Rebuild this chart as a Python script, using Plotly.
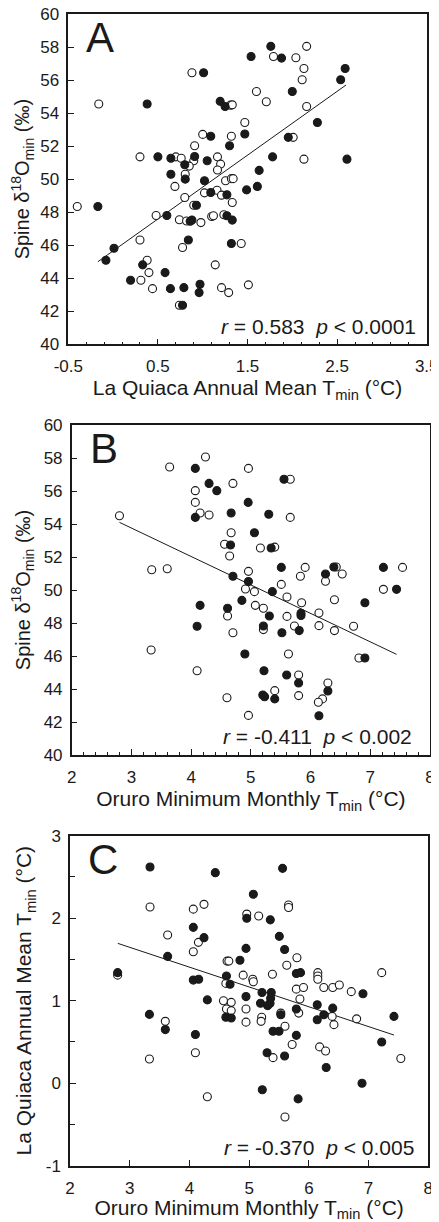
import plotly.graph_objects as go

# ---------------- Panel A data ----------------
a_open_x = [-0.40, -0.16, 0.88, 1.31, 1.33, 1.47, 1.00, 1.32, 0.91, 0.30, 0.70, 0.76, 0.90, 1.165, 1.20,
            0.85, 0.805, 1.165, 0.69, 1.255, 1.32, 1.34, 1.02, 1.16, 1.21, 0.80, 1.33, 0.90, 0.48, 0.74,
            0.82, 0.98, 1.10, 1.12, 1.236, 0.30, 0.775, 1.43, 0.38, 0.40, 1.14, 0.31, 0.44, 1.21, 1.29,
            1.51, 0.74, 2.16, 1.79, 2.04, 2.13, 2.11, 1.60, 1.71, 2.16, 2.01, 2.13]
a_open_y = [48.34, 54.55, 56.44, 54.48, 54.50, 53.43, 52.71, 52.60, 52.02, 51.35, 51.35, 51.27, 51.11, 51.35, 50.91,
            50.79, 50.30, 50.55, 49.56, 49.90, 50.03, 50.03, 49.17, 49.33, 49.03, 48.89, 48.59, 48.42, 47.80, 47.54,
            47.47, 47.37, 47.74, 47.78, 47.84, 46.32, 45.86, 46.10, 45.09, 44.34, 44.81, 43.88, 43.37, 43.43, 43.13,
            43.60, 42.36, 58.04, 57.43, 57.35, 56.70, 56.02, 55.31, 54.69, 54.40, 52.53, 51.21]
a_fill_x = [-0.17, 0.38, 1.01, 1.195, 1.25, 1.09, 1.30, 1.47, 0.50, 0.645, 0.91, 1.05, 0.80, 0.805, 0.645,
            1.02, 1.09, 1.27, 0.93, 0.60, 0.88, 0.86, 1.27, 1.33, 0.84, 1.32, 0.01, -0.08, 0.33, 0.58,
            0.195, 0.64, 0.79, 0.97, 0.96, 0.775, 1.76, 1.54, 1.88, 2.59, 2.54, 2.00, 2.28, 1.955, 1.78,
            2.61, 1.63, 1.61, 1.49]
a_fill_y = [48.34, 54.55, 56.44, 54.71, 54.40, 52.60, 52.02, 52.73, 51.35, 51.27, 51.37, 51.11, 50.87, 50.00, 50.30,
            49.90, 49.19, 49.05, 48.42, 47.80, 47.52, 47.45, 47.78, 47.52, 46.32, 46.10, 45.82, 45.09, 44.81, 44.34,
            43.88, 43.37, 43.43, 43.64, 43.13, 42.36, 58.04, 57.43, 57.33, 56.70, 56.02, 55.31, 53.43, 52.53, 51.35,
            51.21, 50.53, 49.56, 49.35]
a_fit_x = [-0.17, 2.60]
a_fit_y = [45.0, 55.7]

# ---------------- Panel B data ----------------
b_open_x = [2.80, 3.64, 4.24, 4.07, 4.70, 4.07, 4.15, 4.30, 4.96, 4.67, 4.56, 4.645, 3.34, 3.60, 4.96,
            4.91, 4.61, 4.70, 3.33, 4.10, 4.60, 4.96, 5.66, 5.66, 5.16, 5.40, 5.91, 5.83, 6.25, 6.43,
            6.53, 7.54, 7.22, 5.06, 5.51, 5.605, 5.85, 6.14, 6.40, 5.075, 5.21, 5.21, 5.605, 5.73, 6.14,
            6.40, 6.72, 5.63, 6.81, 5.80, 6.29, 5.40, 5.80, 6.20, 6.13]
b_open_y = [54.50, 57.45, 58.06, 56.02, 56.46, 55.31, 54.67, 54.55, 57.37, 53.47, 52.77, 52.06, 51.23, 51.29, 51.13,
            50.06, 48.42, 47.41, 46.36, 45.11, 43.47, 42.40, 56.71, 54.40, 52.55, 52.60, 51.37, 50.83, 50.53, 51.39,
            50.97, 51.37, 50.04, 49.90, 50.34, 49.58, 49.23, 48.61, 49.41, 49.07, 48.89, 47.60, 48.40, 47.82, 47.84,
            47.54, 47.80, 46.12, 45.88, 44.85, 44.36, 43.90, 43.60, 43.40, 43.20]
b_fill_x = [4.07, 4.30, 4.43, 4.07, 4.67, 4.955, 4.66, 4.70, 4.96, 4.85, 4.15, 4.61, 4.10, 4.90, 5.555,
            5.30, 5.06, 5.34, 5.51, 6.25, 6.39, 7.22, 7.44, 5.36, 5.84, 5.84, 6.91, 5.31, 5.21, 5.81,
            5.52, 6.91, 5.22, 5.60, 5.80, 6.29, 5.20, 5.23, 5.40, 6.14]
b_fill_y = [57.37, 56.46, 56.02, 54.40, 54.67, 55.31, 52.73, 50.83, 50.51, 49.37, 49.07, 48.89, 47.80, 46.12, 56.71,
            54.59, 53.47, 52.55, 51.37, 50.97, 51.39, 51.37, 50.04, 49.90, 48.59, 48.45, 49.23, 48.42, 47.82, 47.54,
            47.41, 45.88, 45.11, 44.85, 44.36, 43.88, 43.64, 43.53, 43.40, 42.38]
b_fit_x = [2.80, 7.44]
b_fit_y = [54.1, 46.1]

# ---------------- Panel C data ----------------
c_open_x = [3.34, 4.065, 4.244, 4.15, 3.635, 4.065, 2.798, 3.596, 4.10, 3.33, 4.30, 4.63, 4.66, 4.96, 4.61,
            4.90, 4.57, 4.70, 4.62, 4.70, 4.947, 4.947, 5.66, 5.66, 5.16, 5.80, 5.63, 5.39, 6.15, 6.15,
            6.15, 5.06, 5.07, 5.79, 5.91, 6.25, 6.40, 6.51, 6.71, 5.85, 5.83, 5.53, 6.39, 6.42, 6.80,
            5.21, 5.20, 5.60, 5.72, 6.18, 6.28, 7.54, 5.40, 5.60, 7.22]
c_open_y = [2.135, 2.11, 2.168, 1.707, 1.796, 1.594, 1.31, 0.75, 0.37, 0.293, -0.164, 1.48, 1.48, 2.05, 1.21,
            1.31, 1.00, 0.98, 0.90, 0.88, 0.90, 0.74, 2.16, 2.13, 2.026, 1.52, 1.43, 1.32, 1.34, 1.30,
            1.26, 1.26, 1.23, 1.14, 1.16, 1.16, 1.16, 1.19, 1.11, 1.02, 0.85, 0.85, 0.81, 0.71, 0.78,
            0.80, 0.75, 0.69, 0.47, 0.44, 0.39, 0.30, 0.31, -0.41, 1.34]
c_fill_x = [3.34, 4.433, 4.065, 4.244, 3.635, 2.798, 4.065, 4.155, 4.30, 3.33, 3.596, 4.10, 4.846, 4.947, 4.96,
            4.62, 4.68, 4.947, 4.61, 4.70, 5.56, 5.07, 5.354, 5.505, 5.594, 5.79, 5.86, 6.906, 5.215, 5.37,
            5.36, 5.35, 5.19, 5.31, 5.79, 5.53, 6.14, 6.40, 6.14, 6.25, 7.425, 5.40, 5.50, 5.79, 7.22,
            5.30, 5.594, 6.29, 6.89, 5.22, 5.82]
c_fill_y = [2.62, 2.552, 1.889, 1.764, 1.537, 1.34, 1.25, 1.26, 1.01, 0.834, 0.65, 0.59, 1.49, 1.634, 2.00,
            1.30, 1.20, 1.05, 0.80, 0.79, 2.604, 2.29, 1.98, 1.78, 1.62, 1.33, 1.34, 1.085, 1.10, 1.10,
            1.03, 0.97, 0.97, 0.94, 0.90, 0.83, 0.95, 0.91, 0.77, 0.83, 0.81, 0.63, 0.63, 0.58, 0.50,
            0.37, 0.33, 0.19, 0.00, -0.08, -0.19]
c_fit_x = [2.80, 7.425]
c_fit_y = [1.695, 0.584]

# ---------------- Tick labels ----------------
a_xtickvals = [-0.5, 0.5, 1.5, 2.5, 3.5]
a_xticktext = ["-0.5", "0.5", "1.5", "2.5", "3.5"]
ab_ytickvals = [40, 42, 44, 46, 48, 50, 52, 54, 56, 58, 60]
ab_yticktext = ["40", "42", "44", "46", "48", "50", "52", "54", "56", "58", "60"]
bc_xtickvals = [2, 3, 4, 5, 6, 7, 8]
bc_xticktext = ["2", "3", "4", "5", "6", "7", "8"]
c_ytickvals = [-1, 0, 1, 2, 3]
c_yticktext = ["-1", "0", "1", "2", "3"]

panel_letters = ["A", "B", "C"]
stats_text = ["<i>r</i> = 0.583&nbsp;&nbsp;<i>p</i> &lt; 0.0001",
              "<i>r</i> = -0.411&nbsp;&nbsp;<i>p</i> &lt; 0.002",
              "<i>r</i> = -0.370&nbsp;&nbsp;<i>p</i> &lt; 0.005"]
x_titles = ["La Quiaca Annual Mean T<sub>min</sub> (°C)",
            "Oruro Minimum Monthly T<sub>min</sub> (°C)",
            "Oruro Minimum Monthly T<sub>min</sub> (°C)"]
y_titles = ["Spine δ<sup>18</sup>O<sub>min</sub> (‰)",
            "Spine δ<sup>18</sup>O<sub>min</sub> (‰)",
            "La Quiaca Annual Mean T<sub>min</sub> (°C)"]

FONT = "Liberation Sans, Arial, Helvetica, sans-serif"
INK = "#1a1a1a"
PAGE_W, PAGE_H = 439, 1222
OFF = 8  # the page body margin that offsets the figure
W, H = PAGE_W - OFF, PAGE_H - OFF

fig = go.Figure()

panels = [
    (a_open_x, a_open_y, a_fill_x, a_fill_y, a_fit_x, a_fit_y),
    (b_open_x, b_open_y, b_fill_x, b_fill_y, b_fit_x, b_fit_y),
    (c_open_x, c_open_y, c_fill_x, c_fill_y, c_fit_x, c_fit_y),
]
for i, (ox, oy, fx, fy, lx, ly) in enumerate(panels):
    xa = "x" if i == 0 else f"x{i+1}"
    ya = "y" if i == 0 else f"y{i+1}"
    fig.add_trace(go.Scatter(x=lx, y=ly, mode="lines", line=dict(color=INK, width=1),
                             xaxis=xa, yaxis=ya, showlegend=False, hoverinfo="skip"))
    fig.add_trace(go.Scatter(x=ox, y=oy, mode="markers",
                             marker=dict(symbol="circle", size=8, color="white",
                                         line=dict(color=INK, width=1.1)),
                             xaxis=xa, yaxis=ya, showlegend=False))
    fig.add_trace(go.Scatter(x=fx, y=fy, mode="markers",
                             marker=dict(symbol="circle", size=8, color=INK,
                                         line=dict(color=INK, width=1.1)),
                             xaxis=xa, yaxis=ya, showlegend=False))

# page-pixel geometry of the three plot frames (left, right, top, bottom)
frames = [(68.3, 426.7, 14.0, 344.3), (71.7, 430.0, 425.0, 755.0), (70.0, 428.3, 835.7, 1165.7)]

def xd(l, r):
    return [(l - OFF) / W, (r - OFF) / W]

def yd(t, b):
    return [1 - (b - OFF) / H, 1 - (t - OFF) / H]

common = dict(showline=True, linecolor=INK, linewidth=1.5, mirror=True, showgrid=False, zeroline=False,
              ticks="inside", tickcolor=INK, tickfont=dict(family=FONT, size=17, color=INK),
              fixedrange=True, automargin=False, ticklabeloverflow="allow")

xranges = [[-0.5, 3.5], [2, 8], [2, 8]]
yranges = [[40, 60], [40, 60], [-1, 3]]
xtv = [(a_xtickvals, a_xticktext), (bc_xtickvals, bc_xticktext), (bc_xtickvals, bc_xticktext)]
ytv = [(ab_ytickvals, ab_yticktext), (ab_ytickvals, ab_yticktext), (c_ytickvals, c_yticktext)]
xminor = [dict(ticks="inside", tick0=-0.5, dtick=0.2, ticklen=3, tickcolor=INK),
          dict(ticks="inside", tick0=2, dtick=0.2, ticklen=3, tickcolor=INK),
          None]
yminor = [None, None, dict(ticks="inside", tick0=-1, dtick=0.5, ticklen=5, tickcolor=INK)]
ytitle_sizes = [20, 20, 21]

layout = dict(width=W, height=H, margin=dict(l=0, r=0, t=0, b=0, autoexpand=False),
              paper_bgcolor="white", plot_bgcolor="white", showlegend=False,
              font=dict(family=FONT, color=INK))
annotations = []
for i in range(3):
    l, r, t, b = frames[i]
    sx = "" if i == 0 else str(i + 1)
    xax = dict(common, domain=xd(l, r), range=xranges[i], tickmode="array",
               tickvals=xtv[i][0], ticktext=xtv[i][1], ticklen=6, ticklabelstandoff=6,
               anchor="y" + sx,
               title=dict(text=x_titles[i], font=dict(family=FONT, size=21, color=INK), standoff=4))
    if xminor[i]:
        xax["minor"] = xminor[i]
    yax = dict(common, domain=yd(t, b), range=yranges[i], tickmode="array",
               tickvals=ytv[i][0], ticktext=ytv[i][1], ticklen=6, ticklabelstandoff=4,
               anchor="x" + sx,
               title=dict(text=y_titles[i], font=dict(family=FONT, size=ytitle_sizes[i], color=INK),
                          standoff=8))
    if yminor[i]:
        yax["minor"] = yminor[i]
    layout["xaxis" + sx] = xax
    layout["yaxis" + sx] = yax
    annotations.append(dict(text=panel_letters[i], xref=f"x{sx} domain", yref=f"y{sx} domain",
                            x=0.045, y=1.005, xanchor="left", yanchor="top", showarrow=False,
                            font=dict(family=FONT, size=42, color=INK)))
    annotations.append(dict(text=stats_text[i], xref=f"x{sx} domain", yref=f"y{sx} domain",
                            x=[0.976, 0.955, 0.966][i], y=0.055, xanchor="right", yanchor="middle",
                            showarrow=False, font=dict(family=FONT, size=21, color=INK)))
layout["annotations"] = annotations
fig.update_layout(**layout)

fig.write_html("out.html")
